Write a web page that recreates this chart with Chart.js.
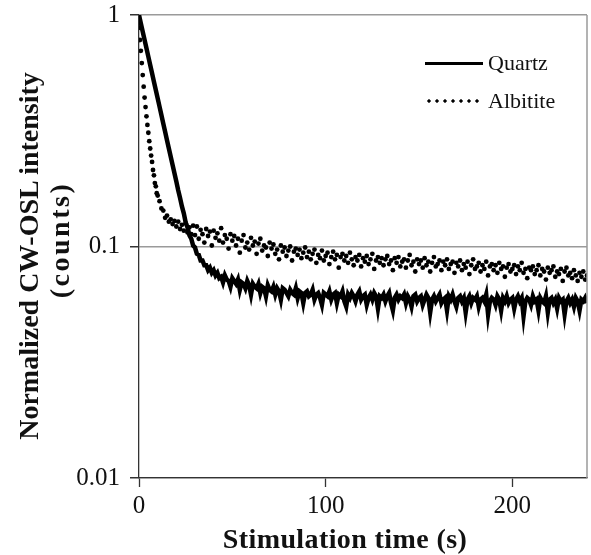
<!DOCTYPE html>
<html lang="en">
<head>
    <meta charset="UTF-8">
    <title>CW-OSL decay</title>
    <script src="https://cdn.jsdelivr.net/npm/chart.js"></script>
    <style>
        body {
            margin: 0;
            background: #fff;
        }
        .wrap {
            position: relative;
            width: 591px;
            height: 555px;
            font-family: 'Liberation Serif', 'Times New Roman', serif;
            color: #111;
        }
        .legend {
            position: absolute;
            left: 425px;
            top: 44px;
            font-size: 22px;
        }
        .legend-row {
            display: flex;
            align-items: center;
            height: 38px;
        }
        .sample {
            width: 58px;
            margin-right: 5px;
        }
        .solid {
            height: 3px;
            background: #000;
        }
        .dotted {
            height: 4px;
            width: 54px;
            margin-right: 9px;
            background-image: radial-gradient(circle, #000 1.4px, transparent 1.9px);
            background-size: 8px 4px;
        }
        .axis-title {
            position: absolute;
            font-size: 28px;
            font-weight: bold;
            line-height: 1;
            white-space: nowrap;
            transform: translate(-50%, -50%);
        }
        .x-title {
            left: 345px;
            top: 539px;
            letter-spacing: 0.4px;
        }
        .y-title {
            transform: translate(-50%, -50%) rotate(-90deg);
        }
        .y-title.first {
            left: 29px;
            top: 256px;
        }
        .y-title.second {
            left: 60px;
            top: 240px;
            letter-spacing: 2.5px;
        }
    </style>
</head>
<body>
    <div class="wrap">
        <canvas id="oslChart" width="591" height="555"></canvas>
        <div class="legend">
            <div class="legend-row"><div class="sample solid"></div>Quartz</div>
            <div class="legend-row"><div class="sample dotted"></div>Albitite</div>
        </div>
        <div class="axis-title x-title">Stimulation time (s)</div>
        <div class="axis-title y-title first">Normalized CW-OSL intensity</div>
        <div class="axis-title y-title second">(counts)</div>
    </div>

    <script>
        // quartz: one reading per second, 0..240 s
        const quartzStep = 1;
        const quartz = [
            1.000, 0.920, 0.847, 0.780, 0.718, 0.661, 0.608, 0.560, 0.515, 0.474,
            0.437, 0.402, 0.370, 0.340, 0.313, 0.288, 0.265, 0.244, 0.225, 0.207,
            0.191, 0.175, 0.162, 0.149,
            0.139, 0.127, 0.121, 0.112, 0.108, 0.101, 0.099, 0.093, 0.092, 0.087,
            0.087, 0.083, 0.083, 0.079, 0.081, 0.077, 0.079,
            0.075, 0.077, 0.073, 0.074, 0.070, 0.075, 0.072, 0.071, 0.067, 0.073,
            0.071, 0.069, 0.072, 0.065, 0.070, 0.069, 0.066, 0.071, 0.068, 0.062,
            0.069, 0.067, 0.066, 0.069, 0.063, 0.067, 0.066, 0.061, 0.068, 0.065,
            0.064, 0.067, 0.062, 0.066, 0.064, 0.059, 0.066, 0.065, 0.063, 0.061,
            0.065, 0.063, 0.062, 0.066, 0.060, 0.064, 0.063, 0.057, 0.063, 0.064,
            0.061, 0.062, 0.065, 0.059, 0.062, 0.063, 0.060, 0.056, 0.063, 0.062,
            0.061, 0.064, 0.059, 0.062, 0.063, 0.057, 0.062, 0.061, 0.064, 0.058,
            0.055, 0.062, 0.060, 0.063, 0.061, 0.058, 0.062, 0.064, 0.059, 0.061,
            0.062, 0.056, 0.060, 0.062, 0.059, 0.063, 0.061, 0.054, 0.061, 0.060,
            0.062, 0.058, 0.061, 0.063, 0.057, 0.053, 0.060, 0.062, 0.059, 0.061,
            0.060, 0.062, 0.057, 0.061, 0.059, 0.055, 0.061, 0.062, 0.058, 0.060,
            0.061, 0.056, 0.059, 0.062, 0.060, 0.052, 0.059, 0.061, 0.058, 0.060,
            0.062, 0.057, 0.059, 0.060, 0.053, 0.061, 0.059, 0.062, 0.058, 0.055,
            0.060, 0.061, 0.058, 0.060, 0.052, 0.059, 0.061, 0.057, 0.060, 0.059,
            0.061, 0.055, 0.059, 0.060, 0.058, 0.062, 0.051, 0.058, 0.060, 0.059,
            0.056, 0.061, 0.059, 0.053, 0.060, 0.058, 0.061, 0.057, 0.059, 0.060,
            0.054, 0.059, 0.061, 0.058, 0.060, 0.050, 0.058, 0.060, 0.059, 0.056,
            0.061, 0.058, 0.059, 0.053, 0.060, 0.058, 0.057, 0.061, 0.052, 0.059,
            0.060, 0.057, 0.059, 0.054, 0.060, 0.058, 0.059, 0.051, 0.058, 0.060,
            0.057, 0.059, 0.055, 0.060, 0.058, 0.053, 0.059, 0.058, 0.060, 0.057
        ];

        // albitite: every 0.5 s for the first 10 s, then every second from 11 s
        const albititeEarlyStep = 0.5;
        const albititeEarly = [
            0.88, 0.78, 0.70, 0.62, 0.55, 0.49, 0.44, 0.40, 0.365, 0.335,
            0.31, 0.285, 0.265, 0.247, 0.232, 0.214, 0.203, 0.188, 0.182, 0.170,
            0.166
        ];
        const albititeLateStart = 11;
        const albititeLate = [
            0.157, 0.146, 0.143, 0.133, 0.136, 0.128, 0.131, 0.125, 0.129, 0.122,
            0.128, 0.119, 0.124, 0.117, 0.126, 0.115, 0.121, 0.113, 0.123, 0.112,
            0.122, 0.108, 0.118, 0.113, 0.104, 0.119, 0.111, 0.116, 0.101, 0.117,
            0.109, 0.114, 0.106, 0.120, 0.104, 0.112, 0.108, 0.098, 0.113, 0.106,
            0.111, 0.101, 0.108, 0.094, 0.106, 0.112, 0.099, 0.104, 0.097, 0.109,
            0.101, 0.105, 0.093, 0.103, 0.108, 0.096, 0.101, 0.099, 0.091, 0.104,
            0.098, 0.102, 0.093, 0.097, 0.088, 0.101, 0.095, 0.099, 0.091, 0.096,
            0.100, 0.087, 0.095, 0.098, 0.092, 0.097, 0.089, 0.094, 0.099, 0.090,
            0.095, 0.088, 0.093, 0.097, 0.085, 0.092, 0.089, 0.096, 0.087, 0.091,
            0.094, 0.084, 0.090, 0.095, 0.088, 0.092, 0.081, 0.090, 0.093, 0.087,
            0.091, 0.085, 0.094, 0.088, 0.083, 0.090, 0.087, 0.092, 0.082, 0.089,
            0.086, 0.091, 0.084, 0.088, 0.093, 0.080, 0.087, 0.090, 0.085, 0.089,
            0.083, 0.088, 0.091, 0.084, 0.087, 0.079, 0.089, 0.085, 0.090, 0.082,
            0.086, 0.088, 0.081, 0.087, 0.092, 0.083, 0.086, 0.078, 0.088, 0.084,
            0.087, 0.081, 0.089, 0.083, 0.086, 0.078, 0.085, 0.090, 0.082, 0.084,
            0.087, 0.079, 0.086, 0.083, 0.088, 0.080, 0.084, 0.086, 0.077, 0.085,
            0.082, 0.087, 0.079, 0.084, 0.081, 0.086, 0.076, 0.083, 0.088, 0.080,
            0.082, 0.085, 0.078, 0.083, 0.080, 0.086, 0.075, 0.082, 0.084, 0.079,
            0.083, 0.077, 0.085, 0.080, 0.082, 0.074, 0.081, 0.084, 0.078, 0.080,
            0.083, 0.076, 0.082, 0.079, 0.085, 0.077, 0.080, 0.073, 0.081, 0.079,
            0.082, 0.076, 0.079, 0.083, 0.075, 0.080, 0.078, 0.072, 0.081, 0.077,
            0.079, 0.082, 0.074, 0.078, 0.076, 0.080, 0.071, 0.078, 0.081, 0.075,
            0.077, 0.073, 0.079, 0.075, 0.071, 0.077, 0.074, 0.078, 0.072, 0.075
        ];

        const xTicks = [0, 100, 200];
        const yTicks = [0.01, 0.1, 1];
        const xMax = 240;

        const quartzPoints = quartz.map((v, i) => ({ x: i * quartzStep, y: v }));
        const albititePoints = albititeEarly.map((v, i) => ({ x: i * albititeEarlyStep, y: v }))
            .concat(albititeLate.map((v, i) => ({ x: albititeLateStart + i, y: v })));

        const serif = "'Liberation Serif', 'Times New Roman', serif";

        // thin grey line closing the plot on the right
        const frameRight = {
            id: 'frameRight',
            afterDraw(chart) {
                const { ctx, chartArea } = chart;
                ctx.save();
                ctx.strokeStyle = '#9a9a9a';
                ctx.lineWidth = 1.5;
                ctx.beginPath();
                ctx.moveTo(chartArea.right, chartArea.top);
                ctx.lineTo(chartArea.right, chartArea.bottom);
                ctx.stroke();
                ctx.restore();
            }
        };

        new Chart(document.getElementById('oslChart'), {
            type: 'line',
            data: {
                datasets: [
                    {
                        label: 'Quartz',
                        data: quartzPoints,
                        borderColor: '#000',
                        borderWidth: 4.5,
                        pointRadius: 0,
                        tension: 0
                    },
                    {
                        label: 'Albitite',
                        data: albititePoints,
                        showLine: false,
                        pointRadius: 2.4,
                        pointBorderWidth: 0,
                        pointBackgroundColor: '#000',
                        borderColor: '#000'
                    }
                ]
            },
            options: {
                responsive: false,
                animation: false,
                devicePixelRatio: 1,
                layout: { padding: { top: 15, right: 3, left: 0, bottom: 0 } },
                plugins: {
                    legend: { display: false },
                    tooltip: { enabled: false }
                },
                scales: {
                    x: {
                        type: 'linear',
                        min: 0,
                        max: xMax,
                        afterBuildTicks: scale => { scale.ticks = xTicks.map(v => ({ value: v })); },
                        afterFit: scale => {
                            scale.height = 77;
                            scale.paddingLeft = 0;
                            scale.paddingRight = 0;
                        },
                        grid: {
                            drawOnChartArea: false,
                            drawTicks: true,
                            tickLength: 9,
                            tickColor: '#333',
                            tickWidth: 1.3
                        },
                        border: { color: '#333', width: 1.3 },
                        ticks: {
                            color: '#111',
                            padding: 4,
                            maxRotation: 0,
                            font: { family: serif, size: 25 }
                        }
                    },
                    y: {
                        type: 'logarithmic',
                        min: 0.01,
                        max: 1,
                        afterBuildTicks: scale => { scale.ticks = yTicks.map(v => ({ value: v })); },
                        afterFit: scale => {
                            scale.width = 139;
                            scale.paddingTop = 0;
                            scale.paddingBottom = 0;
                        },
                        grid: {
                            color: '#9a9a9a',
                            lineWidth: 1.5,
                            drawTicks: true,
                            tickLength: 9,
                            tickColor: '#333'
                        },
                        border: { color: '#333', width: 1.3 },
                        ticks: {
                            color: '#111',
                            padding: 10,
                            font: { family: serif, size: 25 },
                            callback: v => String(v)
                        }
                    }
                }
            },
            plugins: [frameRight]
        });
    </script>
</body>
</html>
